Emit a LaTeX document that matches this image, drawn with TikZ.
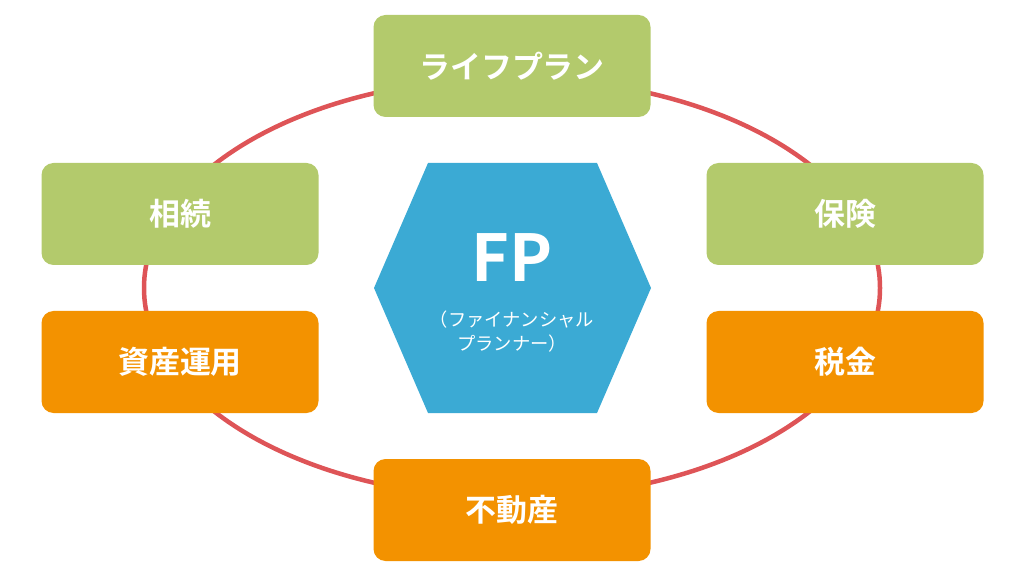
\documentclass[tikz,border=0pt]{standalone}
\usepackage{fontspec}
\newfontfamily\cjk{Noto Sans CJK JP}[BoldFont={Noto Sans CJK JP Bold}]
\definecolor{leaf}{HTML}{B3CA6C}
\definecolor{amber}{HTML}{F39200}
\definecolor{sky}{HTML}{3BAAD4}
\definecolor{ring}{HTML}{DE5457}

\begin{document}
\begin{tikzpicture}[x=0.025cm, y=-0.025cm,
	box/.style = {rounded corners=12*0.025cm, minimum width=277*0.025cm, minimum height=102*0.025cm, inner sep=0pt, text=white, font=\cjk\bfseries\fontsize{22}{26}\selectfont}]
	 \useasboundingbox (0, 0) rectangle (1024, 576);
	 
	 \draw[ring, line width=3.2pt] (512, 288) ellipse (368 and 210);
	 
	 \fill[sky] (374, 288) -- (428, 163) -- (597, 163) -- (651, 288) -- (597, 413) -- (428, 413) -- cycle;
	 \node[text=white, font=\cjk\bfseries\fontsize{46}{50}\selectfont] (fp) at (512, 258) {FP};
	 \node[text=white, align=center, font=\cjk\fontsize{13}{17}\selectfont] (fpsub) at (512, 332) {（ファイナンシャル\\プランナー）};
	 
	 \node[box, fill=leaf] (plan) at (512, 66) {ライフプラン};
	 \node[box, fill=leaf] (inherit) at (180, 214) {相続};
	 \node[box, fill=leaf] (insure) at (845, 214) {保険};
	 \node[box, fill=amber] (invest) at (180, 362) {資産運用};
	 \node[box, fill=amber] (tax) at (845, 362) {税金};
	 \node[box, fill=amber] (estate) at (512, 510) {不動産};
\end{tikzpicture}
\end{document}
